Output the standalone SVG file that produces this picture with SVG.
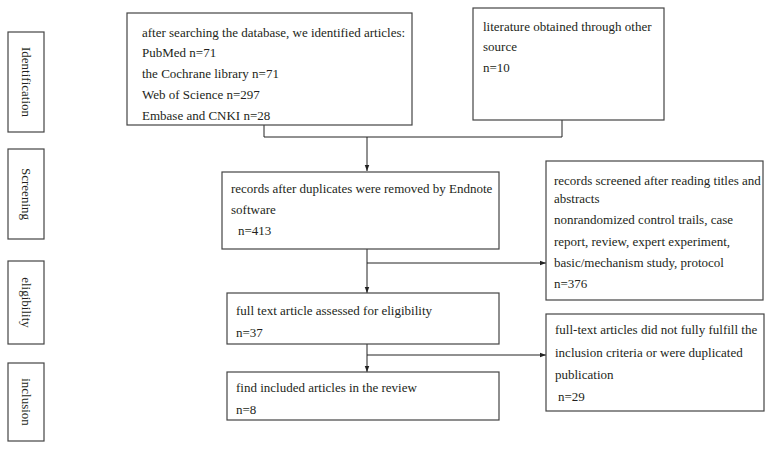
<svg xmlns="http://www.w3.org/2000/svg" width="774" height="449" viewBox="0 0 774 449">
<defs>
<style>
.b{fill:#fff;stroke:#444;stroke-width:1.2}
.t{font-family:"Liberation Serif","Times New Roman",serif;font-size:13px;fill:#231f20}
.l{font-family:"Liberation Serif","Times New Roman",serif;font-size:13px;fill:#231f20;text-anchor:middle}
.c{fill:none;stroke:#222;stroke-width:1}
</style>
<marker id="ah" viewBox="0 0 8 8" refX="8" refY="4" markerWidth="6" markerHeight="6" orient="auto" markerUnits="userSpaceOnUse">
<path d="M0,1 L8,4 L0,7 z" fill="#222"/>
</marker>
</defs>
<rect width="774" height="449" fill="#fff"/>
<g id="stage-identification"><rect class="b" x="8" y="32" width="36" height="100"/><text class="l" transform="translate(26,82) rotate(90)" dy="4.5">Identification</text></g>
<g id="stage-screening"><rect class="b" x="8" y="149" width="36" height="90"/><text class="l" transform="translate(26,194) rotate(90)" dy="4.5">Screening</text></g>
<g id="stage-eligibility"><rect class="b" x="8" y="261" width="36" height="83"/><text class="l" transform="translate(26,302.5) rotate(90)" dy="4.5">eligibility</text></g>
<g id="stage-inclusion"><rect class="b" x="8" y="363" width="36" height="78"/><text class="l" transform="translate(26,402) rotate(90)" dy="4.5">inclusion</text></g>
<g id="connectors">
<polyline class="c" points="264,125 264,137 562,137 562,120"/>
<line class="c" x1="367" y1="137" x2="367" y2="171" marker-end="url(#ah)"/>
<line class="c" x1="367" y1="249" x2="367" y2="293" marker-end="url(#ah)"/>
<line class="c" x1="367" y1="263" x2="546" y2="263" marker-end="url(#ah)"/>
<line class="c" x1="367" y1="344" x2="367" y2="372" marker-end="url(#ah)"/>
<line class="c" x1="367" y1="355" x2="546" y2="355" marker-end="url(#ah)"/>
</g>
<g id="database"><rect class="b" x="127" y="13" width="285" height="112"/>
<text class="t" x="142" y="37">after searching the database, we identified articles:</text>
<text class="t" x="142" y="57">PubMed n=71</text>
<text class="t" x="142" y="78">the Cochrane library n=71</text>
<text class="t" x="142" y="99">Web of Science n=297</text>
<text class="t" x="142" y="120">Embase and CNKI n=28</text></g>
<g id="other-source"><rect class="b" x="473" y="8" width="191" height="112"/>
<text class="t" x="483" y="31">literature obtained through other</text>
<text class="t" x="483" y="51">source</text>
<text class="t" x="483" y="72">n=10</text></g>
<g id="deduplicated"><rect class="b" x="222" y="172" width="277" height="77"/>
<text class="t" x="231" y="193">records after duplicates were removed by Endnote</text>
<text class="t" x="231" y="214">software</text>
<text class="t" x="238" y="235">n=413</text></g>
<g id="screened-out"><rect class="b" x="546" y="161" width="217" height="139"/>
<text class="t" x="554" y="185">records screened after reading titles and</text>
<text class="t" x="554" y="203">abstracts</text>
<text class="t" x="554" y="224">nonrandomized control trails, case</text>
<text class="t" x="554" y="246">report, review, expert experiment,</text>
<text class="t" x="554" y="267">basic/mechanism study, protocol</text>
<text class="t" x="554" y="288">n=376</text></g>
<g id="full-text"><rect class="b" x="227" y="293" width="272" height="51"/>
<text class="t" x="236" y="315">full text article assessed for eligibility</text>
<text class="t" x="236" y="337">n=37</text></g>
<g id="excluded-full-text"><rect class="b" x="546" y="314" width="218" height="97"/>
<text class="t" x="555" y="334">full-text articles did not fully fulfill the</text>
<text class="t" x="555" y="357">inclusion criteria or were duplicated</text>
<text class="t" x="555" y="379">publication</text>
<text class="t" x="558" y="401">n=29</text></g>
<g id="included"><rect class="b" x="227" y="372" width="272" height="48"/>
<text class="t" x="236" y="392">find included articles in the review</text>
<text class="t" x="236" y="414">n=8</text></g>
</svg>
